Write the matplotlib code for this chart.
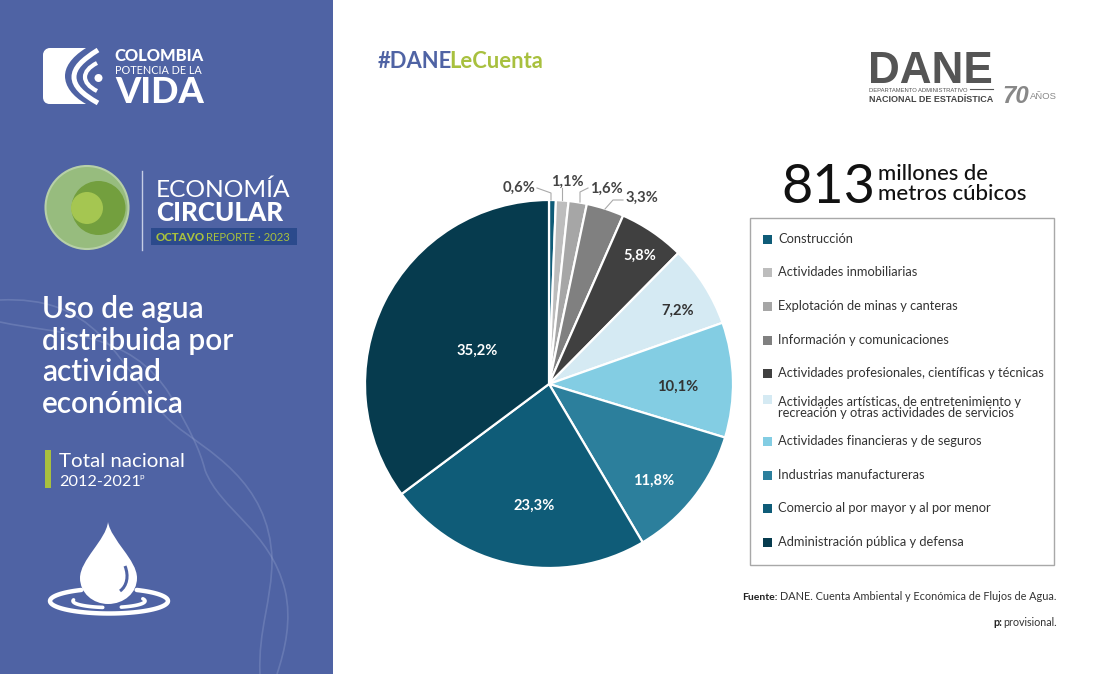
import numpy as np
import matplotlib
matplotlib.use("Agg")
import matplotlib.pyplot as plt
from matplotlib.patches import Rectangle, Circle, PathPatch
from matplotlib.path import Path

plt.rcParams['font.family'] = ['Lato', 'DejaVu Sans']

# uso de agua por actividad, en porcentaje
actividades = ["Construcción", "Actividades inmobiliarias", "Explotación de minas y canteras",
               "Información y comunicaciones", "Actividades profesionales, científicas y técnicas",
               "Actividades artísticas, de entretenimiento y\nrecreación y otras actividades de servicios",
               "Actividades financieras y de seguros", "Industrias manufactureras",
               "Comercio al por mayor y al por menor", "Administración pública y defensa"]
valores = [0.6, 1.1, 1.6, 3.3, 5.8, 7.2, 10.1, 11.8, 23.3, 35.2]
colores = ["#0F5C78", "#BDBDBD", "#A6A6A6", "#808080", "#404040",
           "#D5EAF3", "#83CDE3", "#2C7F9C", "#0F5C78", "#063B4E"]
color_texto = ["#444444", "#444444", "#444444", "#444444", "white",
               "#333333", "#333333", "white", "white", "white"]

AZUL = "#4F63A4"
VERDE = "#A8C03E"
W, H = 1100, 674

fig = plt.figure(figsize=(11, 6.74), dpi=100, facecolor="white")

# capa de dibujo en pixeles, y hacia abajo
bg = fig.add_axes([0, 0, 1, 1])
bg.set_xlim(0, W)
bg.set_ylim(H, 0)
bg.axis("off")
bg.set_zorder(2)


def txt(x, y, s, px, **kw):
    kw.setdefault("color", "white")
    kw.setdefault("va", "baseline")
    return bg.text(x, y, s, fontsize=px * 0.72, **kw)


def curva(puntos, **kw):
    codes = [Path.MOVETO] + [Path.CURVE4] * (len(puntos) - 1)
    bg.add_patch(PathPatch(Path(puntos, codes), **kw))


def arco(cx, cy, rx, ry, t1, t2, lw, color="white"):
    t = np.radians(np.linspace(t1, t2, 80))
    bg.plot(cx + rx * np.cos(t), cy + ry * np.sin(t), color=color, lw=lw, solid_capstyle="round")


bg.add_patch(Rectangle((0, 0), 333, H, fc=AZUL, ec="none"))

# ondas del panel
onda = dict(fc="none", ec="#8A9AC8", lw=1.2, alpha=0.4)
curva([(0, 300), (45, 298), (75, 310), (100, 335), (130, 365), (150, 405), (175, 425),
       (205, 450), (270, 480), (272, 560), (272, 600), (258, 630), (260, 674)], **onda)
curva([(0, 322), (60, 335), (130, 330), (170, 395), (190, 430), (200, 450), (205, 470),
       (220, 510), (270, 530), (285, 590), (292, 620), (285, 650), (277, 674)], **onda)

# logo Colombia
curva([(50, 48), (60, 48), (75, 48), (86, 48), (70, 58), (65, 68), (65, 76), (65, 86), (72, 96), (86, 104),
       (75, 104), (60, 104), (50, 104), (45, 104), (43, 101), (43, 97), (43, 80), (43, 70), (43, 55),
       (43, 51), (46, 48), (50, 48)], fc="white", ec="none")
curva([(98, 50), (82, 60), (74, 68), (74, 77), (74, 86), (82, 94), (98, 103)], fc="none", ec="white", lw=3.6)
curva([(97, 63), (89, 67), (85, 72), (85, 77), (85, 82), (89, 87), (97, 91)], fc="none", ec="white", lw=3.0)
bg.add_patch(Circle((98.5, 78), 4, fc="white", ec="none"))
txt(114, 61, "COLOMBIA", 16.5, fontweight="black")
txt(115, 74, "POTENCIA DE LA", 10.9)
txt(115, 103, "VIDA", 36, fontweight="black")

# logo Economia circular
bg.add_patch(Circle((87, 207.5), 41.5, fc="#97BC7E", ec="#B7D0A8", lw=1.5))
bg.add_patch(Circle((98.5, 208), 27, fc="#739F3E", ec="none"))
bg.add_patch(Circle((87, 208), 16, fc="#A5C651", ec="none"))
bg.plot([141.5, 141.5], [171, 250], color="#C5CDE5", lw=1)
txt(156, 197, "ECONOMÍA", 24.5, fontweight="regular")
txt(156, 221, "CIRCULAR", 26, fontweight="black")
bg.add_patch(Rectangle((151, 228), 146, 17, fc="#2B4A8C", ec="none"))
txt(156, 241, "OCTAVO", 11.5, color=VERDE, fontweight="black")
txt(206, 241, "REPORTE · 2023", 11.2, color=VERDE, fontweight="regular")

# titulo
for y, linea in zip([318, 350, 381, 413], ["Uso de agua", "distribuida por", "actividad", "económica"]):
    txt(42, y, linea, 29.8, fontweight="semibold")
bg.add_patch(Rectangle((45, 450), 6, 38, fc=VERDE, ec="none"))
txt(59, 467, "Total nacional", 20.5, fontweight="regular")
txt(59, 486, "2012-2021", 16.2, fontweight="regular")
txt(139, 479, "p", 8)

# gota
t_gota = [(108, 522), (106, 540), (80, 560), (80, 578), (80, 593), (93, 604), (108, 604),
          (124, 604), (137, 593), (137, 578), (137, 560), (111, 540), (108, 522)]
curva(t_gota, fc="white", ec="none")
curva([(125, 566), (129, 576), (127, 586), (120, 591)], fc="none", ec=AZUL, lw=2.2)
arco(109, 601, 59, 12.5, -62, 242, 3.2)
bg.add_patch(Rectangle((98, 608), 22, 9, fc=AZUL, ec="none"))
arco(109, 601, 36, 6.5, 100, 190, 2.6)
arco(109, 601, 36, 6.5, -20, 70, 2.6)

# encabezado
txt(378, 68, "#DANE", 22, color=AZUL, fontweight="bold")
txt(449, 68, "LeCuenta", 22, color=VERDE, fontweight="bold")

gris = "#555555"
txt(868, 83, "DANE", 44, color=gris, family="Liberation Sans", fontweight="bold")
txt(869, 91.5, "DEPARTAMENTO ADMINISTRATIVO", 5.9, color=gris, family="Liberation Sans")
bg.plot([970, 993], [89, 89], color=gris, lw=0.8)
txt(869, 102.5, "NACIONAL DE ESTADÍSTICA", 9.0, color="#444444", family="Liberation Sans", fontweight="bold")
txt(1002, 103, "70", 24, color="#888888", family="Liberation Sans", fontweight="bold", fontstyle="italic")
txt(1030, 99, "AÑOS", 9.5, color="#888888", family="Liberation Sans")

# total
txt(781, 203, "813", 54, color="#111111", fontweight="regular")
txt(878, 180, "millones de", 22, color="#111111", fontweight="medium")
txt(878, 200, "metros cúbicos", 22.3, color="#111111", fontweight="medium")

# torta
R = 184
cx, cy = 549, 384
tam = 2 * (R + 6)
ax = fig.add_axes([(cx - tam / 2) / W, 1 - (cy + tam / 2) / H, tam / W, tam / H])
wedges, _ = ax.pie(valores, colors=colores, startangle=90, counterclock=False, radius=R,
                   wedgeprops=dict(edgecolor="white", linewidth=1.6))
ax.set_xlim(-R - 6, R + 6)
ax.set_ylim(-R - 6, R + 6)
ax.patch.set_alpha(0)
ax.set_zorder(3)

# capa superior para etiquetas y guias
top = fig.add_axes([0, 0, 1, 1])
top.set_xlim(0, W)
top.set_ylim(H, 0)
top.axis("off")
top.set_zorder(4)

# etiquetas de cada porcion
pos_etiquetas = [(519, 186), (567, 180), (606, 187), (642, 196), (640, 254),
                 (678, 309), (678, 385), (654, 479), (534, 504), (477, 349)]
for (x, y), v, c in zip(pos_etiquetas, valores, color_texto):
    top.text(x, y + 1.5, f"{v:.1f}%".replace(".", ","), fontsize=14.8 * 0.72, color=c, fontweight="bold",
             ha="center", va="center")

# lineas guia de las porciones pequenas
guias = [[(537, 188), (551, 193), (551, 200)], [(562, 188), (562, 200)],
         [(588, 188), (580, 192), (580, 202)], [(623, 200), (613, 200), (605, 209)]]
for g in guias:
    g = np.array(g)
    top.plot(g[:, 0], g[:, 1], color="#AAAAAA", lw=0.8)

# leyenda
bg.add_patch(Rectangle((750, 218), 304, 347, fc="none", ec="#A8A8A8", lw=1))
y_ley = [239, 272, 306, 340, 373, 401, 441, 475, 508, 542]
for y, nombre, c in zip(y_ley, actividades, colores):
    y_cuad = y - 2 if "\n" in nombre else y
    bg.add_patch(Rectangle((763, y_cuad - 4), 8.5, 8.5, fc=c, ec="none"))
    txt(778, y + (6.5 if "\n" in nombre else 0), nombre, 12.9, color="#333333", va="center", linespacing=0.85)

# fuente
txt(742, 600, "Fuente:", 10.4, color="#222222", fontweight="bold")
txt(1057, 600, "DANE. Cuenta Ambiental y Económica de Flujos de Agua.", 10.9, color="#333333", ha="right")
txt(1057, 626, "provisional.", 10.8, color="#333333", ha="right")
txt(993, 626, "p:", 10.8, color="#222222", fontweight="bold")

fig.savefig("out.png", dpi=100)
